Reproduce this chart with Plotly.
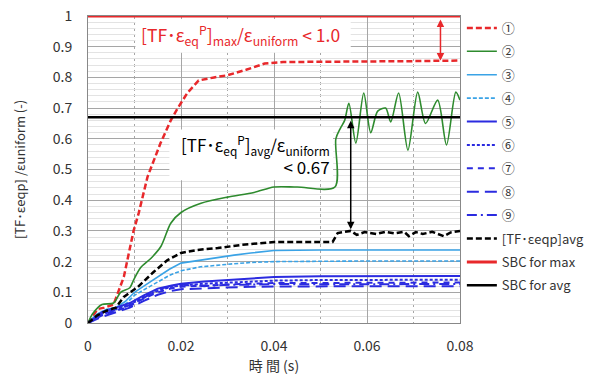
import plotly.graph_objects as go

# ---------------- data ----------------
t1 = [0, 0.001, 0.002, 0.0035, 0.0055, 0.0077, 0.0098, 0.0109, 0.0128, 0.0156, 0.0178,
      0.0193, 0.0214, 0.0238, 0.0271, 0.030, 0.034, 0.038, 0.042, 0.05, 0.06, 0.07, 0.08]
s1 = [0, 0.02, 0.045, 0.05, 0.06, 0.15, 0.30, 0.358, 0.476, 0.586, 0.66,
      0.70, 0.75, 0.79, 0.80, 0.807, 0.825, 0.845, 0.85, 0.85, 0.852, 0.853, 0.855]

t2 = [0, 0.001, 0.003, 0.0055, 0.007, 0.009, 0.0098, 0.0113, 0.0135, 0.0157, 0.0178, 0.02,
      0.0243, 0.03, 0.0357, 0.04, 0.045, 0.0531, 0.0533, 0.0543, 0.0552, 0.0561, 0.0576,
      0.0593, 0.0608, 0.0623, 0.0640, 0.0651, 0.0668, 0.0688, 0.0709, 0.0726, 0.0752,
      0.0771, 0.0791, 0.08]
s2 = [0, 0.03, 0.06, 0.065, 0.10, 0.115, 0.14, 0.18, 0.21, 0.25, 0.325, 0.36,
      0.39, 0.41, 0.425, 0.443, 0.443, 0.443, 0.60, 0.635, 0.66, 0.716, 0.586,
      0.749, 0.62, 0.69, 0.70, 0.655, 0.749, 0.563, 0.752, 0.65, 0.726,
      0.58, 0.752, 0.726]

t3 = [0, 0.002, 0.004, 0.006, 0.008, 0.01, 0.012, 0.015, 0.0175, 0.02, 0.0242, 0.0314,
      0.035, 0.04, 0.05, 0.06, 0.07, 0.08]
s3 = [0, 0.03, 0.045, 0.05, 0.07, 0.10, 0.12, 0.15, 0.175, 0.195, 0.205, 0.221,
      0.228, 0.236, 0.238, 0.238, 0.238, 0.238]
s4 = [0, 0.028, 0.04, 0.045, 0.06, 0.09, 0.108, 0.135, 0.155, 0.17, 0.183, 0.193,
      0.197, 0.2, 0.202, 0.202, 0.202, 0.202]

tb = [0, 0.003, 0.006, 0.009, 0.012, 0.015, 0.018, 0.02, 0.025, 0.03, 0.035, 0.04,
      0.05, 0.06, 0.07, 0.08]
s5 = [0, 0.035, 0.05, 0.065, 0.09, 0.112, 0.122, 0.128, 0.135, 0.14, 0.147, 0.15,
      0.152, 0.153, 0.153, 0.153]
s6 = [0, 0.03, 0.045, 0.06, 0.085, 0.105, 0.118, 0.122, 0.128, 0.132, 0.136, 0.138,
      0.14, 0.14, 0.141, 0.141]
s7 = [0, 0.025, 0.04, 0.055, 0.08, 0.10, 0.113, 0.118, 0.122, 0.126, 0.128, 0.13,
      0.131, 0.131, 0.132, 0.132]
s8 = [0, 0.02, 0.035, 0.05, 0.072, 0.092, 0.105, 0.11, 0.113, 0.116, 0.118, 0.119,
      0.12, 0.12, 0.12, 0.12]
s9 = [0, 0.028, 0.042, 0.058, 0.082, 0.11, 0.12, 0.125, 0.12, 0.125, 0.125, 0.127,
      0.126, 0.127, 0.126, 0.127]

tavg = [0, 0.002, 0.004, 0.006, 0.0077, 0.0107, 0.0141, 0.0171, 0.02, 0.0235, 0.0279,
        0.0328, 0.04, 0.045, 0.0526, 0.0537, 0.0565, 0.0578, 0.0595, 0.062, 0.064, 0.066,
        0.068, 0.0690, 0.0705, 0.072, 0.074, 0.0765, 0.078, 0.080]
savg = [0, 0.025, 0.04, 0.05, 0.085, 0.117, 0.166, 0.205, 0.228, 0.238, 0.244,
        0.254, 0.264, 0.264, 0.264, 0.293, 0.30, 0.287, 0.296, 0.29, 0.297, 0.292,
        0.297, 0.283, 0.296, 0.29, 0.297, 0.283, 0.295, 0.30]

sbc_max = 1.0
sbc_avg = 0.67
x_range = [0, 0.08]

names = ["①", "②", "③", "④", "⑤", "⑥", "⑦", "⑧", "⑨",
         "[TF･εeqp]avg", "SBC for max", "SBC for avg"]

RED = "#e8282b"
GREEN = "#2e8b2e"
SKY = "#3aa3e6"
BLUE = "#2b2be0"
FONT = "Noto Sans CJK JP"

fig = go.Figure()

def add(x, y, name, color, width, dash, shape="linear"):
    fig.add_trace(go.Scatter(x=x, y=y, mode="lines", name=name, legendgroup=name,
                             line=dict(color=color, width=width, dash=dash, shape=shape,
                                       smoothing=0.8 if shape == "spline" else None)))

add(t1, s1, names[0], RED, 2.5, "6px,3px")
add(t2, s2, names[1], GREEN, 1.6, "solid", "spline")
add(t3, s3, names[2], SKY, 1.6, "solid")
add(t3, s4, names[3], SKY, 1.6, "4px,2px")
add(tb, s5, names[4], BLUE, 2, "solid")
add(tb, s6, names[5], BLUE, 2, "3px,2px")
add(tb, s7, names[6], BLUE, 2, "6px,5px")
add(tb, s8, names[7], BLUE, 2, "12px,6px")
add(tb, s9, names[8], BLUE, 2, "10px,4px,2px,4px")
add(tavg, savg, names[9], "black", 2.5, "6px,3px")
add(x_range, [sbc_max, sbc_max], names[10], RED, 3, "solid")
add(x_range, [sbc_avg, sbc_avg], names[11], "black", 2.5, "solid")

# white boxes behind the two labels (between grid and traces)
fig.add_shape(type="rect", xref="x", yref="y", x0=0.0102, x1=0.0565, y0=0.88, y1=0.99,
              fillcolor="white", line_width=0, layer="between")
fig.add_shape(type="rect", xref="x", yref="y", x0=0.0175, x1=0.0527, y0=0.465, y1=0.63,
              fillcolor="white", line_width=0, layer="between")

fig.add_annotation(x=0.0327, y=0.938, xref="x", yref="y", showarrow=False,
                   text="[TF･ε<sub>eq</sub><sup>P</sup>]<sub>max</sub>/ε<sub>uniform</sub> &lt; 1.0",
                   font=dict(family=FONT, size=17.5, color=RED))
fig.add_annotation(x=0.0525, y=0.548, xref="x", yref="y", showarrow=False,
                   xanchor="right", align="right",
                   text="[TF･ε<sub>eq</sub><sup>P</sup>]<sub>avg</sub>/ε<sub>uniform</sub><br>&lt; 0.67",
                   font=dict(family=FONT, size=17, color="black"))

# double arrows
fig.add_annotation(x=0.0758, y=s1[-1], ax=0.0758, ay=sbc_max, xref="x", yref="y",
                   axref="x", ayref="y", text="", showarrow=True, arrowhead=2,
                   arrowside="end+start", arrowsize=1, arrowwidth=1.5, arrowcolor=RED,
                   standoff=0, startstandoff=2)
fig.add_annotation(x=0.0565, y=0.305, ax=0.0565, ay=sbc_avg, xref="x", yref="y",
                   axref="x", ayref="y", text="", showarrow=True, arrowhead=2,
                   arrowside="end+start", arrowsize=1, arrowwidth=1.5, arrowcolor="black",
                   standoff=0, startstandoff=2)

fig.update_layout(
    width=584, height=368,
    margin=dict(l=80, r=132, t=8, b=53, autoexpand=False),
    paper_bgcolor="white", plot_bgcolor="white",
    font=dict(family=FONT, size=14, color="#333"),
    showlegend=True,
    legend=dict(x=1.005, y=1.01, xanchor="left", yanchor="top",
                font=dict(family=FONT, size=13, color="#333"),
                tracegroupgap=3.5, bgcolor="rgba(0,0,0,0)", maxheight=360),
    xaxis=dict(range=x_range, dtick=0.02, showgrid=True, gridcolor="#a6a6a6", gridwidth=1,
               minor=dict(dtick=0.01, showgrid=True, gridcolor="#a6a6a6", griddash="dot"),
               showline=True, linecolor="#888", mirror=True, zeroline=False,
               layer="below traces",
               ticks="", tickfont=dict(size=14, color="#333"), automargin=False,
               ticklabelstandoff=10, ticklabeloverflow="allow",
               title=dict(text="時 間 (s)", font=dict(size=14, color="#333"), standoff=2)),
    yaxis=dict(range=[0, 1], dtick=0.1, showgrid=True, gridcolor="#a6a6a6", gridwidth=1,
               minor=dict(dtick=0.02, showgrid=True, gridcolor="#e3e3e3"),
               showline=True, linecolor="#888", mirror=True, zeroline=False,
               layer="below traces",
               ticks="", tickfont=dict(size=14, color="#333"), automargin=False,
               ticklabelstandoff=12, ticklabeloverflow="allow",
               title=dict(text="[TF･εeqp] /εuniform (-)", font=dict(size=13, color="#333"),
                          standoff=24)),
)

fig.write_html("out.html")
